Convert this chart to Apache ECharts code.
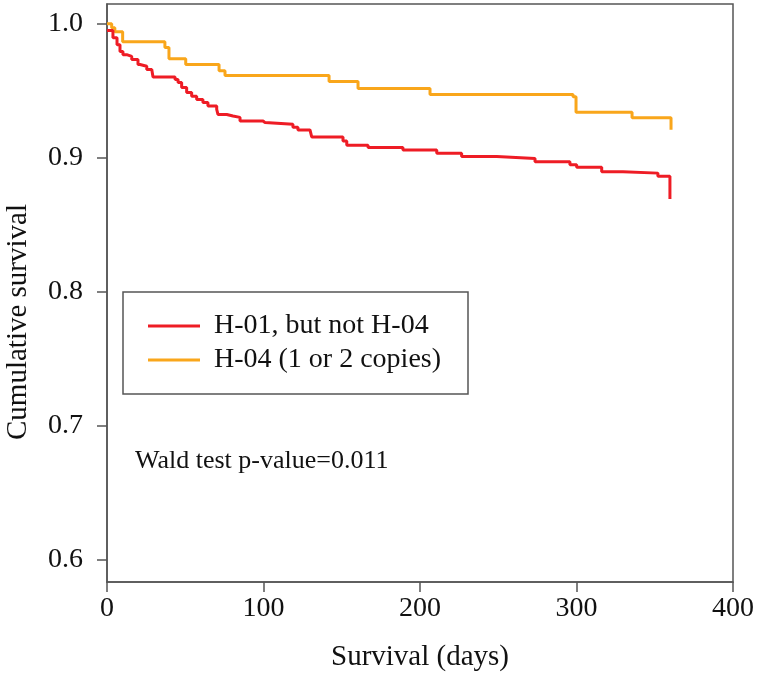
<!DOCTYPE html>
<html>
<head>
<meta charset="utf-8">
<script src="https://cdn.jsdelivr.net/npm/echarts@6/dist/echarts.min.js"></script>
<style>html,body{margin:0;padding:0;background:#fff}#c{width:758px;height:677px}</style>
</head>
<body>
<div id="c"></div>
<script>
// Kaplan-Meier steps: time (days), survival after the step
const redTimes = [0, 3.8, 6.4, 8.3, 10.2, 12.6, 15.8, 19.8, 21.1, 25.4, 28.6, 29.4, 43.5, 45.4, 47.7, 50.9, 54.1, 57.3, 61.3, 64.5, 70.1, 70.9, 76.5, 80.5, 85, 99.7, 101, 118.8, 122, 129.7, 130.8, 150.8, 153.2, 166.8, 189.1, 210.7, 226.6, 249, 273.5, 295.8, 300.1, 316.1, 329.7, 352, 359.7];
const redSurv  = [0.995, 0.9896, 0.9844, 0.9794, 0.977, 0.9757, 0.9733, 0.9696, 0.9683, 0.9659, 0.9646, 0.9604, 0.9584, 0.9562, 0.9525, 0.9488, 0.946, 0.9436, 0.9413, 0.9386, 0.9361, 0.9324, 0.9312, 0.9302, 0.9275, 0.9263, 0.925, 0.9228, 0.9208, 0.92, 0.9156, 0.9126, 0.9094, 0.9077, 0.9059, 0.9035, 0.901, 0.8996, 0.897, 0.8948, 0.8929, 0.8896, 0.8886, 0.8862, 0.8693];
const orangeTimes = [0, 3, 5, 10, 37, 39.6, 50.3, 71.6, 75.4, 141.9, 160.4, 206.4, 297.8, 299.7, 335.5, 360.4];
const orangeSurv  = [1.0, 0.997, 0.994, 0.9866, 0.9824, 0.974, 0.9696, 0.965, 0.9614, 0.957, 0.9517, 0.9473, 0.9455, 0.934, 0.930, 0.921];
const seriesNames = ['H-01, but not H-04', 'H-04 (1 or 2 copies)'];
const yTicks = [0.6, 0.7, 0.8, 0.9, 1.0];
const xTicks = [0, 100, 200, 300, 400];
const yTitle = 'Cumulative survival';
const xTitle = 'Survival (days)';
const annotation = 'Wald test p-value=0.011';

const FONT = 'Liberation Serif';
const pair = (ts, ss) => ts.map((t, i) => [t, ss[i]]);

const chart = echarts.init(document.getElementById('c'), null, {renderer: 'canvas'});
chart.setOption({
  animation: false,
  backgroundColor: '#fff',
  grid: {left: 107, right: 25, top: 4, bottom: 92, show: true, borderColor: '#555', borderWidth: 1.5, containLabel: false},
  xAxis: {
    type: 'value', min: 0, max: 400, interval: 100,
    name: xTitle, nameLocation: 'middle', nameGap: 61,
    nameTextStyle: {fontFamily: FONT, fontSize: 29, color: '#111'},
    axisLine: {show: true, lineStyle: {color: '#555', width: 1.5}},
    axisTick: {show: true, length: 10, lineStyle: {color: '#555', width: 1.5}, customValues: xTicks},
    axisLabel: {fontFamily: FONT, fontSize: 28, color: '#111', margin: 13, customValues: xTicks},
    splitLine: {show: false}
  },
  yAxis: {
    type: 'value', min: 0.5835, max: 1.0148,
    axisLine: {show: true, lineStyle: {color: '#555', width: 1.5}},
    axisTick: {show: true, length: 10, lineStyle: {color: '#555', width: 1.5}, customValues: yTicks},
    axisLabel: {fontFamily: FONT, fontSize: 28, color: '#111', margin: 24, customValues: yTicks, formatter: v => v.toFixed(1)},
    splitLine: {show: false}
  },
  legend: {
    show: true, orient: 'vertical', left: 148, top: 311,
    data: seriesNames.map(n => ({name: n, icon: 'rect'})),
    itemWidth: 52, itemHeight: 3, itemGap: 4,
    textStyle: {fontFamily: FONT, fontSize: 28, lineHeight: 30, color: '#111', padding: [0, 0, 0, 9]},
    padding: 0
  },
  graphic: [
    {type: 'rect', shape: {x: 123, y: 292, width: 345, height: 102}, style: {fill: 'none', stroke: '#555', lineWidth: 1.5}, z: 100},
    {type: 'text', left: 135, top: 448, style: {text: annotation, font: '26px "Liberation Serif"', fill: '#111'}, z: 100},
    {type: 'text', x: 18, y: 322, rotation: Math.PI / 2,
     style: {text: yTitle, font: '29px "Liberation Serif"', fill: '#111', align: 'center', verticalAlign: 'middle'}, z: 100}
  ],
  series: [
    {name: seriesNames[0], type: 'line', step: 'end', symbol: 'none', data: pair(redTimes, redSurv),
     lineStyle: {color: '#ee1c25', width: 3}, itemStyle: {color: '#ee1c25'}, z: 3},
    {name: seriesNames[1], type: 'line', step: 'end', symbol: 'none', data: pair(orangeTimes, orangeSurv),
     lineStyle: {color: '#f9a61b', width: 3}, itemStyle: {color: '#f9a61b'}, z: 2}
  ]
});
</script>
</body>
</html>
